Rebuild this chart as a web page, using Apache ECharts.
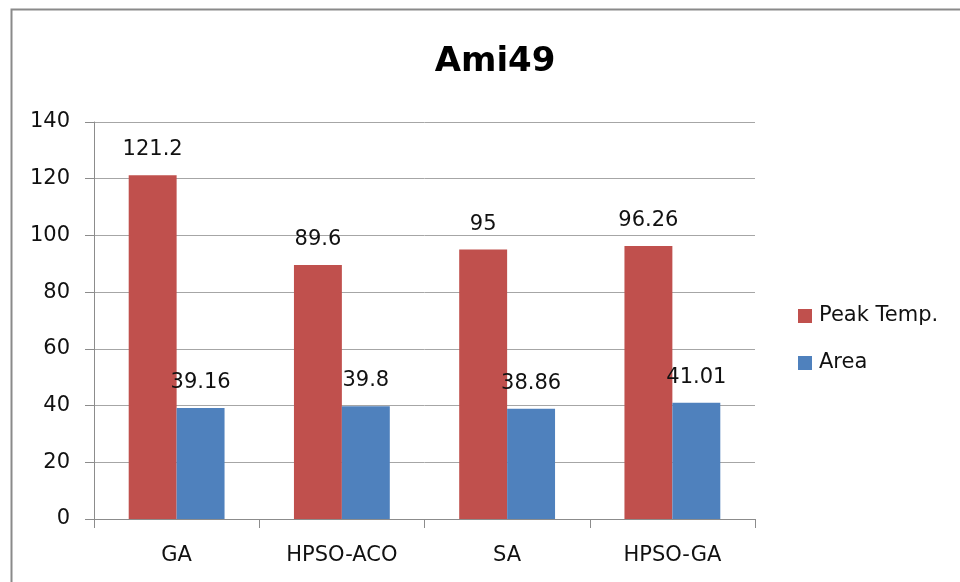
<!DOCTYPE html>
<html><head><meta charset="utf-8">
<script src="https://cdn.jsdelivr.net/npm/echarts@6/dist/echarts.min.js"></script>
<style>html,body{margin:0;padding:0;background:#fff;}#c{width:960px;height:582px;}</style>
</head><body><div id="c"></div>
<script>
const categories = ["GA", "HPSO-ACO", "SA", "HPSO-GA"];
const peakTemp = [121.2, 89.6, 95, 96.26];
const area = [39.16, 39.8, 38.86, 41.01];
const seriesNames = ["Peak Temp.", "Area"];
const yTicks = {min: 0, max: 140, interval: 20};

const font = "'DejaVu Sans', sans-serif";
const chart = echarts.init(document.getElementById('c'));
chart.setOption({
  animation: false,
  backgroundColor: '#fff',
  graphic: [{
    type: 'rect', shape: {x: 11.5, y: 9.5, width: 1000, height: 700},
    style: {fill: 'none', stroke: '#8a8a8a', lineWidth: 2}, silent: true
  }],
  title: {
    text: 'Ami49', left: 490, top: 40, textAlign: 'center',
    textStyle: {fontFamily: font, fontSize: 34, fontWeight: 'bold', color: '#000'}
  },
  legend: {
    orient: 'vertical', left: 798, top: 305, padding: 0, itemWidth: 14, itemHeight: 14, itemGap: 25,
    icon: 'rect',
    textStyle: {fontFamily: font, fontSize: 21, lineHeight: 22, color: '#111', padding: [0, 0, 0, 2]},
    data: seriesNames
  },
  grid: {left: 94, right: 205, top: 122, bottom: 63, containLabel: false},
  xAxis: {
    type: 'category', data: categories,
    axisLine: {lineStyle: {color: '#8c8c8c', width: 1}},
    axisTick: {show: true, alignWithLabel: false, length: 9, lineStyle: {color: '#8c8c8c'}},
    axisLabel: {fontFamily: font, fontSize: 21, color: '#111', margin: 26}
  },
  yAxis: {
    type: 'value', min: yTicks.min, max: yTicks.max, interval: yTicks.interval,
    axisLine: {show: true, lineStyle: {color: '#8c8c8c', width: 1}},
    axisTick: {show: true, length: 9, lineStyle: {color: '#8c8c8c'}},
    splitLine: {lineStyle: {color: '#a6a6a6', width: 1}},
    axisLabel: {fontFamily: font, fontSize: 21, color: '#111', margin: 24}
  },
  series: [
    {name: seriesNames[0], type: 'bar', data: peakTemp, barGap: '0%', barCategoryGap: '42%',
     itemStyle: {color: '#C0504D'},
     label: {show: true, position: 'top', distance: 15, fontFamily: font, fontSize: 21, color: '#111'}},
    {name: seriesNames[1], type: 'bar', data: area, barGap: '0%', barCategoryGap: '42%',
     itemStyle: {color: '#4F81BD'},
     label: {show: true, position: 'top', distance: 15, fontFamily: font, fontSize: 21, color: '#111'}}
  ]
});
</script></body></html>
